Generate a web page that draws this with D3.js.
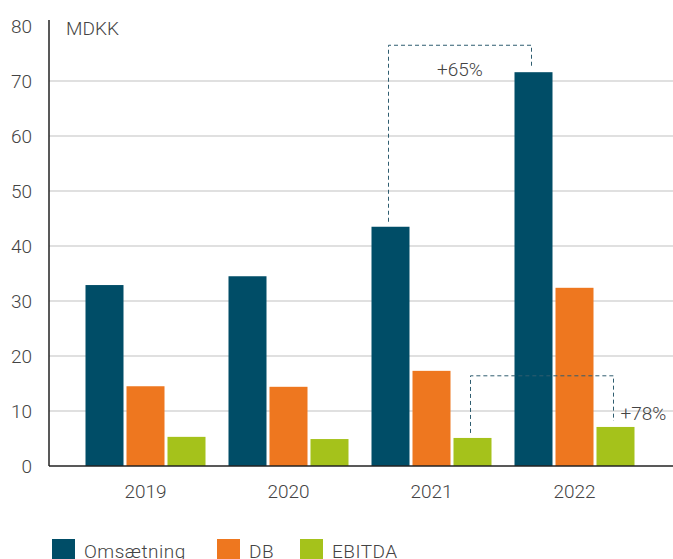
<!DOCTYPE html>
<html>
<head>
  <meta charset="utf-8"/>
  <script src="https://d3js.org/d3.v7.min.js"></script>
  <style>
    html, body { margin: 0; padding: 0; background: #fff; overflow: hidden; }
    svg { display: block; font-family: Roboto, sans-serif; font-weight: 300; }
    .tick text { fill: #444; font-size: 19px; }
  </style>
</head>
<body>
  <div id="chart"></div>
  <script>
    // data
    const years = ["2019", "2020", "2021", "2022"];
    const series = ["Omsætning", "DB", "EBITDA"];
    const colors = ["#004d67", "#ee771f", "#a5c21b"];
    const omsaetning = [32.9, 34.5, 43.5, 71.6];
    const db = [14.5, 14.4, 17.3, 32.4];
    const ebitda = [5.3, 4.9, 5.1, 7.1];
    const yTicks = [0, 10, 20, 30, 40, 50, 60, 70, 80];

    // growth brackets: from (year, series) to (year, series), top level, label
    const brackets = [
      { from: ["2021", "Omsætning"], to: ["2022", "Omsætning"], level: 76.5, label: "+65%", anchor: "middle" },
      { from: ["2021", "EBITDA"], to: ["2022", "EBITDA"], level: 16.4, label: "+78%", anchor: "start" }
    ];

    const values = { "Omsætning": omsaetning, "DB": db, "EBITDA": ebitda };
    const rows = years.map((y, i) => ({ year: y, vals: series.map(s => ({ key: s, value: values[s][i] })) }));

    const width = 673, height = 559;
    const svg = d3.select("#chart").append("svg")
      .attr("width", width).attr("height", height);

    const y = d3.scaleLinear().domain([0, 80]).range([466, 26]);
    const x0 = d3.scaleBand().domain(years).range([74, 646])
      .paddingInner(23 / 143).paddingOuter(11.5 / 143);
    const x1 = d3.scaleBand().domain(series).range([0, x0.bandwidth()])
      .paddingInner(3 / 41).paddingOuter(0);
    const color = d3.scaleOrdinal().domain(series).range(colors);

    // gridlines
    svg.append("g").selectAll("line")
      .data(yTicks.filter(t => t > 0 && t < 80))
      .enter().append("line")
      .attr("x1", 49).attr("x2", width)
      .attr("y1", d => y(d)).attr("y2", d => y(d))
      .attr("stroke", "#d6d6d6").attr("stroke-width", 1.5);

    // y axis
    const yAxis = svg.append("g")
      .attr("transform", "translate(49,0)")
      .call(d3.axisLeft(y).tickValues(yTicks).tickSize(0).tickPadding(17))
      .attr("font-family", null).attr("font-size", null);
    yAxis.select(".domain").attr("stroke", "#222").attr("stroke-width", 1.5)
      .attr("d", `M0,${y(80) - 6}V${y(0)}`);

    svg.append("text")
      .attr("x", 66).attr("y", 35)
      .attr("fill", "#444").attr("font-size", 19)
      .text("MDKK");

    // bars
    const groups = svg.append("g").selectAll("g")
      .data(rows).enter().append("g")
      .attr("transform", d => `translate(${x0(d.year)},0)`);
    groups.selectAll("rect")
      .data(d => d.vals).enter().append("rect")
      .attr("x", d => x1(d.key))
      .attr("width", x1.bandwidth())
      .attr("y", d => y(d.value))
      .attr("height", d => y(0) - y(d.value))
      .attr("fill", d => color(d.key));

    // x axis
    const xAxis = svg.append("g")
      .attr("transform", `translate(0,${y(0)})`)
      .call(d3.axisBottom(x0).tickSize(0).tickPadding(19))
      .attr("font-family", null).attr("font-size", null);
    xAxis.select(".domain").attr("stroke", "#222").attr("stroke-width", 1.5)
      .attr("d", `M49,0H${width}`);

    // growth brackets
    const valueOf = (yr, s) => values[s][years.indexOf(yr)];
    const cx = (yr, s) => x0(yr) + x1(s) + x1.bandwidth() / 2;
    brackets.forEach(b => {
      const xa = cx(b.from[0], b.from[1]) - 2;
      const xb = cx(b.to[0], b.to[1]) - 2;
      const ya = y(valueOf(b.from[0], b.from[1])) - 5;
      const yb = y(valueOf(b.to[0], b.to[1])) - 6;
      const yt = y(b.level);
      svg.append("path")
        .attr("d", `M${xa},${ya}V${yt}H${xb}V${yb}`)
        .attr("fill", "none")
        .attr("stroke", "#2f5d70").attr("stroke-width", 1)
        .attr("stroke-dasharray", "4,3");
      svg.append("text")
        .attr("x", b.anchor === "middle" ? (xa + xb) / 2 : xb + 7)
        .attr("y", b.anchor === "middle" ? yt + 31 : y(b.level) + 44)
        .attr("text-anchor", b.anchor)
        .attr("fill", "#444").attr("font-size", 19)
        .text(b.label);
    });

    // legend
    const legendX = [52, 217, 300];
    const legend = svg.append("g").selectAll("g")
      .data(series).enter().append("g")
      .attr("transform", (d, i) => `translate(${legendX[i]},539)`);
    legend.append("rect")
      .attr("width", 23).attr("height", 23)
      .attr("fill", d => color(d));
    legend.append("text")
      .attr("x", 32).attr("y", 19)
      .attr("fill", "#444").attr("font-size", 19)
      .attr("letter-spacing", "0.5px")
      .text(d => d);
  </script>
</body>
</html>
